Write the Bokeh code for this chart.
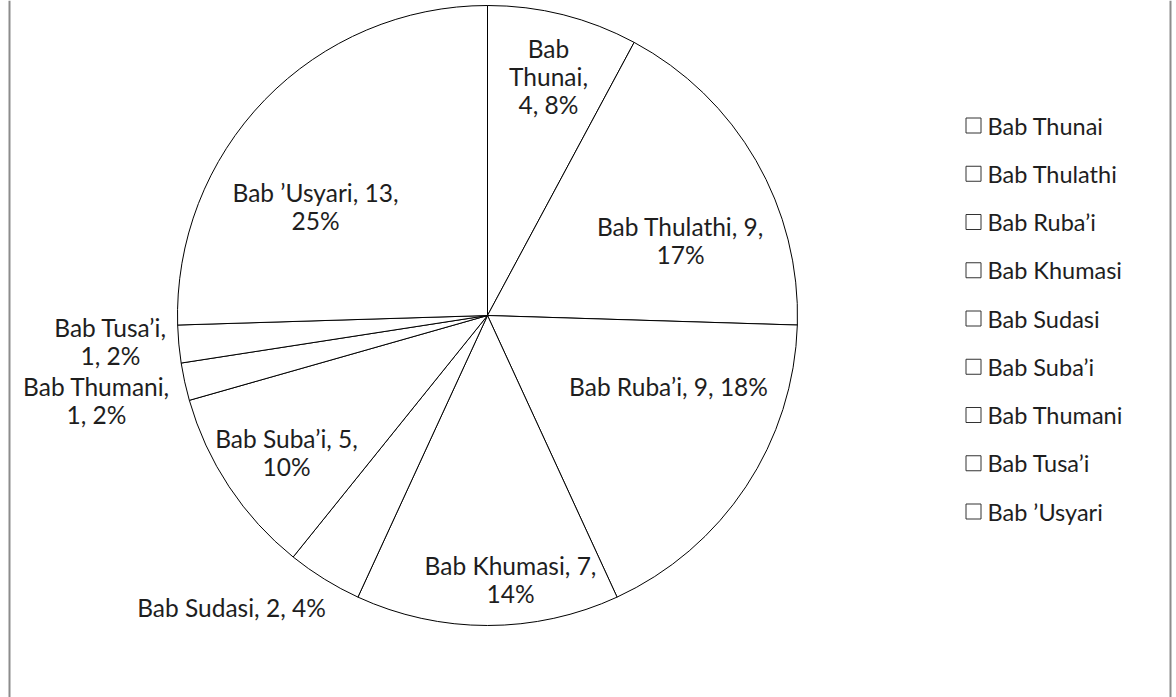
import numpy as np
from bokeh.plotting import figure
from bokeh.models import Range1d, Span, ColumnDataSource
from bokeh.core.properties import value
from bokeh.embed import file_html
from bokeh.resources import INLINE

# ---- data ----
categories = ["Bab Thunai", "Bab Thulathi", "Bab Ruba’i", "Bab Khumasi", "Bab Sudasi",
              "Bab Suba’i", "Bab Thumani", "Bab Tusa’i", "Bab ’Usyari"]
counts = [4, 9, 9, 7, 2, 5, 1, 1, 13]
percents = ["8%", "17%", "18%", "14%", "4%", "10%", "2%", "2%", "25%"]

# ---- layout / style ----
W, H = 1176, 697
CX, CY, R = 487, H - 315, 310
FONT = value("Lato")
FS = "24.5px"
LEG_FS = "23.5px"
TXT = "#1e1e1e"

# label formats (line breaks) and label centres (page pixels)
label_fmt = ["Bab\n{rest},\n{n}, {p}", "{c}, {n},\n{p}", "{c}, {n}, {p}", "{c}, {n},\n{p}",
             "{c}, {n}, {p}", "{c}, {n},\n{p}", "{c},\n{n}, {p}", "{c},\n{n}, {p}", "{c}, {n},\n{p}"]
label_xy = [(548, 76), (680, 240), (668, 386), (510, 579), (231, 607),
            (286, 452), (96, 400), (110, 341), (315, 206)]

total = float(sum(counts))
cum = np.concatenate([[0], np.cumsum(counts)])
start = np.pi / 2 - 2 * np.pi * cum[:-1] / total
end = np.pi / 2 - 2 * np.pi * cum[1:] / total

p = figure(width=W, height=H, output_backend="svg", toolbar_location=None,
           x_range=Range1d(0, W), y_range=Range1d(0, H), min_border=0,
           margin=(0, 0, 0, 0))
p.axis.visible = False
p.grid.visible = False
p.outline_line_color = None
p.background_fill_color = "white"
p.border_fill_color = "white"

src = ColumnDataSource(dict(start=start, end=end, cat=categories))
p.wedge(x=CX, y=CY, radius=R, start_angle="start", end_angle="end", direction="clock",
        source=src, fill_color="white", line_color="black", line_width=1)

texts, xs, ys = [], [], []
for c, n, pc, fmt, (lx, ly) in zip(categories, counts, percents, label_fmt, label_xy):
    texts.append(fmt.format(c=c, n=n, p=pc, rest=c.split(" ", 1)[1]))
    xs.append(lx)
    ys.append(H - ly)
p.text(x=xs, y=ys, text=texts, text_align="center", text_baseline="middle",
       text_font=FONT, text_font_size=FS, text_color=TXT, text_line_height=0.97)

# legend
leg_y = [H - (125 + 48.25 * i) for i in range(len(categories))]
p.scatter(x=[973] * len(categories), y=leg_y, marker="square", size=15,
          fill_color="white", line_color="#333333", line_width=1)
p.text(x=[987] * len(categories), y=leg_y, text=categories, text_align="left",
       text_baseline="middle", text_font=FONT, text_font_size=LEG_FS, text_color=TXT)

# frame
p.add_layout(Span(location=9, dimension="height", line_color="#8c8c8c", line_width=2))
p.add_layout(Span(location=1170, dimension="height", line_color="#8c8c8c", line_width=2))

open("out.html", "w").write(file_html(p, INLINE))
